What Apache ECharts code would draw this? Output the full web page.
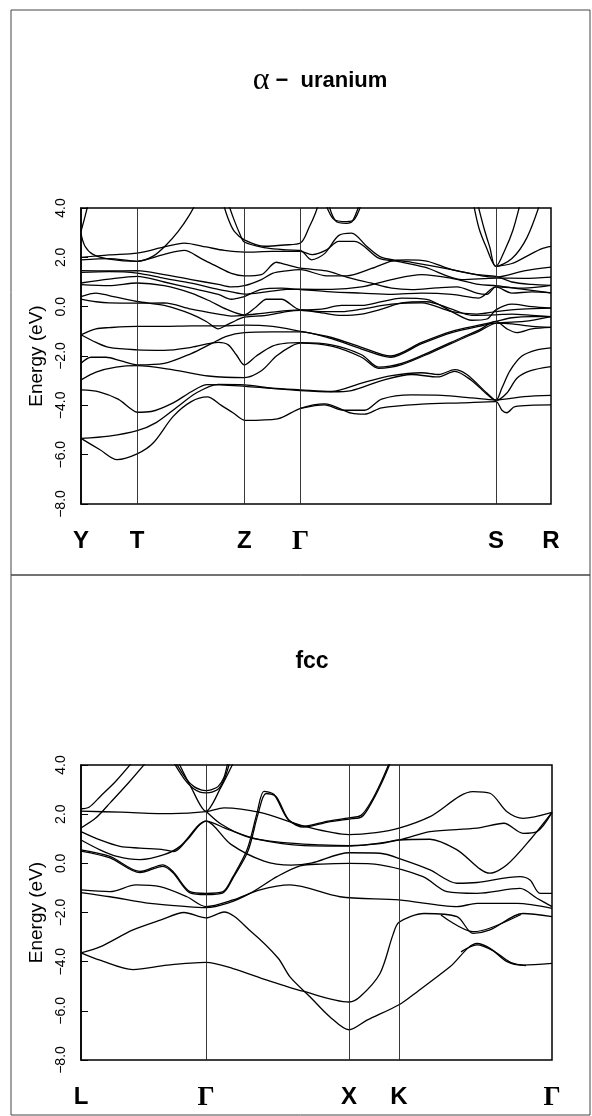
<!DOCTYPE html>
<html>
<head>
<meta charset="utf-8">
<script src="https://cdn.jsdelivr.net/npm/echarts@6/dist/echarts.min.js"></script>
<style>
  html, body { margin: 0; padding: 0; background: #fff; }
  #chart { width: 592px; height: 1116px; }
</style>
</head>
<body>
<div id="chart"></div>
<script>
// energy axis (eV)
const energyMin = -8;
const energyMax = 4;
const energyStep = 2;

// alpha-uranium: k path distance of the symmetry points
const uraniumKPoints = [0, 56, 163, 219, 414, 469];
const uraniumKLabels = ['Y', 'T', 'Z', 'Γ', 'S', 'R'];

// alpha-uranium bands, [k, E]
const uraniumBands = [
  [[0,3.05],[3,3.5],[8,4.3]],
  [[0,2.95],[4,2.45],[12,2.12],[28,1.93],[56,1.84],[72,2.05],[85,2.5],[97,3.05],[108,3.7],[116,4.3]],
  [[141,4.3],[147,3.55],[153,3.05],[163,2.71],[183,2.45],[203,2.5],[219,2.58],[228,3.25],[234,3.8],[238,4.3]],
  [[146,4.3],[152,3.6],[158,3.0],[163,2.62],[185,2.38],[205,2.3],[219,2.28],[230,1.9],[243,2.15],[257,2.88],[270,2.98],[285,2.45],[300,2.0],[330,1.8],[370,1.5],[400,1.25],[414,1.2],[442,1.45],[469,1.6]],
  [[243,4.3],[252,3.55],[265,3.45],[273,3.55],[281,4.3]],
  [[246,4.3],[254,3.48],[265,3.38],[271,3.48],[279,4.3]],
  [[0,2.0],[28,2.1],[56,2.17],[83,2.42],[103,2.58],[125,2.42],[143,2.28],[163,2.21],[191,2.24],[219,2.24],[231,2.11],[245,2.3],[257,2.65],[273,2.65],[297,1.97],[317,1.83],[343,1.6],[380,1.1],[414,1.16],[442,1.15],[469,1.2]],
  [[0,1.9],[28,1.95],[56,1.84],[83,2.12],[103,2.28],[120,1.95],[137,1.6],[150,1.35],[163,1.25],[180,1.3],[195,1.8],[205,1.7],[219,1.56],[245,1.45],[265,1.2],[290,0.95],[310,0.75],[330,0.69],[355,0.76],[375,0.8],[395,0.55],[405,0.5],[414,0.8],[430,0.55],[450,0.6],[469,0.56]],
  [[0,1.46],[28,1.45],[56,1.46],[83,1.3],[110,1.1],[137,0.9],[150,0.8],[163,0.85],[180,1.1],[191,1.35],[205,1.45],[219,1.5],[245,1.25],[265,1.25],[290,1.55],[310,1.85],[325,1.9],[345,1.85],[370,1.5],[395,1.3],[414,1.23],[430,1.0],[450,0.9],[469,0.86]],
  [[0,1.39],[28,1.42],[56,1.36],[83,1.15],[110,0.95],[137,0.7],[150,0.6],[163,0.51],[185,0.6],[205,0.7],[219,0.71],[250,0.7],[280,0.8],[310,1.1],[340,1.3],[370,1.15],[397,0.9],[414,0.85],[442,0.7],[469,0.56]],
  [[0,0.96],[28,1.12],[56,1.23],[83,1.0],[110,0.75],[137,0.5],[150,0.3],[157,0.35],[163,0.41],[180,0.7],[200,0.75],[219,0.69],[250,0.6],[280,0.55],[310,0.5],[340,0.55],[370,0.5],[397,0.35],[414,0.8],[442,0.75],[469,0.86]],
  [[0,0.89],[28,0.85],[56,0.96],[83,0.85],[110,0.55],[130,0.2],[145,-0.1],[163,-0.33],[175,0.0],[185,0.3],[200,0.3],[219,-0.13],[240,-0.1],[260,0.05],[280,0.05],[300,0.2],[320,0.35],[345,0.3],[370,-0.2],[390,-0.55],[405,-0.5],[414,-0.13],[430,0.1],[450,0.0],[469,-0.06]],
  [[0,0.41],[15,0.55],[28,0.45],[56,0.21],[83,0.05],[110,-0.3],[125,-0.6],[137,-0.9],[145,-0.75],[155,-0.55],[163,-0.42],[185,-0.35],[205,-0.2],[219,-0.15],[240,-0.25],[260,-0.35],[280,-0.3],[300,-0.1],[320,0.15],[345,0.2],[370,-0.1],[390,-0.35],[414,-0.33],[430,-0.3],[450,-0.35],[469,-0.4]],
  [[0,0.31],[15,0.2],[28,0.15],[56,0.14],[83,0.15],[110,-0.1],[137,-0.3],[150,-0.38],[163,-0.35],[185,-0.25],[219,-0.13],[240,-0.2],[260,-0.2],[280,-0.1],[310,0.1],[340,0.15],[370,-0.2],[395,-0.3],[414,-0.2],[440,-0.1],[469,-0.06]],
  [[0,-1.14],[15,-0.9],[28,-0.85],[56,-0.8],[83,-0.8],[110,-0.78],[137,-0.78],[163,-0.75],[191,-0.8],[219,-1.0],[250,-1.25],[280,-1.65],[309,-2.0],[340,-1.45],[370,-1.0],[397,-0.75],[414,-0.6],[430,-0.45],[450,-0.4],[469,-0.4]],
  [[0,-2.29],[10,-2.05],[25,-2.05],[40,-2.2],[56,-2.36],[83,-2.3],[110,-1.9],[130,-1.5],[145,-1.2],[163,-1.05],[191,-1.02],[219,-1.02],[250,-1.3],[280,-1.72],[309,-2.05],[340,-1.5],[370,-1.05],[397,-0.8],[414,-0.67],[430,-0.7],[450,-0.8],[469,-0.84]],
  [[0,-1.14],[15,-1.45],[28,-1.65],[56,-1.75],[83,-1.77],[110,-1.65],[137,-1.45],[147,-1.55],[155,-1.95],[163,-2.36],[175,-2.0],[191,-1.6],[205,-1.48],[219,-1.46],[250,-1.55],[280,-1.95],[297,-2.45],[320,-2.3],[350,-1.8],[380,-1.25],[397,-0.95],[414,-0.6],[425,-0.9],[435,-1.05],[450,-0.9],[469,-0.84]],
  [[0,-2.97],[15,-2.65],[35,-2.45],[56,-2.39],[92,-2.56],[127,-2.81],[163,-2.88],[180,-2.6],[195,-2.0],[210,-1.6],[219,-1.48],[250,-1.6],[280,-2.05],[297,-2.5],[320,-2.35],[350,-1.85],[380,-1.3],[397,-1.0],[414,-0.67],[442,-0.6],[469,-0.4]],
  [[0,-3.37],[18,-3.45],[37,-3.75],[50,-4.15],[56,-4.28],[70,-4.25],[92,-3.9],[110,-3.45],[126,-3.16],[164,-3.23],[186,-3.3],[219,-3.4],[250,-3.45],[270,-3.4],[300,-3.0],[330,-2.75],[356,-2.85],[373,-2.62],[390,-3.0],[405,-3.55],[414,-3.8],[425,-3.5],[435,-2.9],[448,-2.6],[469,-2.43]],
  [[0,-5.34],[28,-5.25],[56,-5.03],[75,-4.7],[95,-4.1],[115,-3.5],[137,-3.15],[163,-3.17],[191,-3.3],[219,-3.37],[250,-3.44],[280,-3.1],[310,-2.8],[340,-2.68],[357,-2.75],[373,-2.55],[385,-2.75],[405,-3.5],[414,-3.8],[420,-3.3],[428,-2.6],[440,-2.0],[455,-1.75],[469,-1.67]],
  [[0,-5.34],[19,-5.8],[36,-6.2],[56,-5.97],[72,-5.53],[92,-4.45],[110,-3.85],[126,-3.66],[140,-4.0],[152,-4.31],[164,-4.61],[196,-4.55],[219,-4.12],[243,-3.94],[270,-4.32],[283,-4.36],[300,-4.1],[340,-3.95],[380,-3.9],[414,-3.85],[420,-4.2],[425,-4.3],[433,-4.05],[469,-3.98]],
  [[219,-4.12],[243,-3.98],[262,-4.2],[283,-4.2],[300,-3.75],[330,-3.58],[360,-3.6],[390,-3.7],[414,-3.78],[442,-3.65],[469,-3.6]],
  [[391,4.3],[397,3.2],[404,2.45],[414,1.63],[423,2.3],[431,3.1],[439,4.3]],
  [[395,4.3],[402,3.2],[408,2.4],[414,1.63],[430,1.95],[445,2.8],[459,4.3]],
  [[414,1.63],[430,1.75],[445,2.05],[460,2.35],[469,2.44]]
];

// fcc: k path distance of the symmetry points
const fccKPoints = [0, 125, 268, 318, 471];
const fccKLabels = ['L', 'Γ', 'X', 'K', 'Γ'];

// fcc bands, [k, E]
const fccBands = [
  [[0,2.22],[8,2.28],[20,2.75],[35,3.35],[52,4.15]],
  [[0,1.44],[15,1.85],[30,2.5],[48,3.3],[66,4.15]],
  [[92,4.15],[103,3.45],[112,3.05],[119,2.9],[125,2.87],[131,2.9],[138,3.05],[144,3.5],[149,4.15]],
  [[94,4.15],[105,3.45],[113,3.12],[120,2.99],[125,2.96],[130,2.99],[137,3.12],[143,3.5],[147,4.15]],
  [[97,4.15],[110,3.1],[125,2.12],[140,3.1],[153,4.15]],
  [[0,2.12],[40,2.08],[90,2.02],[125,2.1],[143,2.26],[180,2.06],[223,1.51],[268,1.17],[295,1.25],[318,1.43],[349,1.9],[392,2.92],[409,2.85],[426,2.1],[442,1.83],[471,2.07]],
  [[0,1.29],[19,0.95],[39,0.69],[59,0.62],[83,0.55],[93,0.48],[106,0.95],[125,1.72],[147,1.38],[177,0.97],[223,0.72],[268,0.7],[318,0.95],[349,1.29],[396,1.43],[423,1.63],[442,1.22],[456,1.29],[471,2.07]],
  [[0,0.95],[19,0.55],[36,0.28],[59,0.15],[83,0.35],[99,0.69],[125,1.72],[150,0.77],[183,0.09],[210,-0.07],[230,0.01],[268,0.43],[299,0.41],[322,0.14],[349,-0.27],[376,-0.81],[396,-0.78],[439,-0.54],[449,-0.68],[459,-1.22],[471,-1.22]],
  [[0,0.55],[29,0.28],[59,-0.33],[82,-0.06],[92,-0.33],[109,-1.15],[125,-1.22],[142,-1.15],[152,-0.54],[166,0.55],[176,2.04],[183,2.93],[193,2.8],[207,1.79],[223,1.51],[247,1.72],[268,1.85],[280,1.95],[290,2.5],[300,3.3],[309,4.15]],
  [[0,0.5],[29,0.22],[59,-0.38],[82,-0.12],[92,-0.38],[109,-1.2],[125,-1.27],[142,-1.2],[152,-0.6],[167,0.5],[177,2.0],[185,2.84],[195,2.72],[208,1.75],[223,1.47],[247,1.68],[268,1.8],[281,1.9],[291,2.5],[301,3.3],[310,4.15]],
  [[0,-1.08],[29,-1.15],[55,-0.88],[79,-0.95],[106,-1.36],[125,-1.76],[152,-1.49],[179,-1.08],[209,-0.88],[259,-1.36],[318,-1.49],[376,-1.76],[396,-1.63],[436,-1.63],[471,-1.83]],
  [[0,-1.19],[29,-1.36],[69,-1.63],[106,-1.76],[125,-1.8],[146,-1.63],[169,-1.22],[196,-0.54],[219,-0.1],[240,-0.03],[268,0.0],[299,-0.06],[342,-0.54],[366,-1.15],[396,-1.22],[439,-1.02],[456,-1.42],[471,-1.76]],
  [[125,2.12],[140,1.6],[165,1.1],[200,0.85],[240,0.75],[268,0.72],[299,0.8],[318,0.95],[349,0.98],[376,0.55],[409,-0.4],[426,-0.06],[450,1.0],[471,2.07]],
  [[0,-3.64],[19,-3.94],[52,-4.32],[86,-4.14],[125,-4.03],[152,-4.28],[186,-4.75],[222,-5.2],[268,-5.64],[279,-5.43],[299,-4.48],[312,-2.9],[318,-2.4],[343,-2.04],[376,-2.17],[392,-2.85],[409,-2.71],[442,-2.04],[471,-2.17]],
  [[360,-2.1],[392,-2.78],[410,-2.62],[440,-2.08]],
  [[0,-3.64],[19,-3.4],[52,-2.71],[80,-2.3],[103,-2.0],[125,-2.22],[143,-1.98],[170,-2.77],[197,-3.85],[209,-4.62],[229,-5.43],[249,-6.25],[268,-6.77],[286,-6.38],[319,-5.73],[336,-5.23],[369,-4.21],[396,-3.26],[409,-3.46],[426,-4.0],[442,-4.14],[471,-4.07]],
  [[380,-3.6],[396,-3.32],[412,-3.55],[430,-4.04],[445,-4.16]]
];

const FONT = '"Liberation Sans", Arial, Helvetica, sans-serif';
const SERIF = '"Liberation Serif", "Times New Roman", serif';

function kLabelFormatter(points, labels) {
  return function (v) {
    const i = points.indexOf(v);
    if (i < 0) return '';
    return labels[i] === 'Γ' ? '{g|Γ}' : '{b|' + labels[i] + '}';
  };
}

function makeXAxis(gridIndex, points, labels) {
  return {
    type: 'value',
    gridIndex: gridIndex,
    min: points[0],
    max: points[points.length - 1],
    axisLine: { show: false },
    axisTick: { show: false },
    splitLine: { show: false },
    axisLabel: {
      customValues: points,
      formatter: kLabelFormatter(points, labels),
      margin: 25,
      rich: {
        b: { fontFamily: FONT, fontWeight: 'bold', fontSize: 24, color: '#000' },
        g: { fontFamily: SERIF, fontWeight: 'bold', fontSize: 27, color: '#000' }
      }
    }
  };
}

function makeYAxis(gridIndex) {
  return {
    type: 'value',
    gridIndex: gridIndex,
    min: energyMin,
    max: energyMax,
    interval: energyStep,
    name: 'Energy (eV)',
    nameLocation: 'middle',
    nameRotate: 90,
    nameGap: 34,
    nameTextStyle: { fontFamily: FONT, fontSize: 19, color: '#000' },
    axisLine: { show: true, lineStyle: { color: '#000', width: 1.5 } },
    axisTick: { show: true, inside: true, length: 7, lineStyle: { color: '#000', width: 1 } },
    splitLine: { show: false },
    axisLabel: {
      rotate: 90,
      margin: 13,
      fontFamily: FONT,
      fontSize: 14,
      color: '#000',
      formatter: v => v.toFixed(1).replace('-', '\u2212')
    }
  };
}

function makeBandSeries(bands, gridIndex, points) {
  return bands.map((band, i) => {
    const s = {
      type: 'line',
      xAxisIndex: gridIndex,
      yAxisIndex: gridIndex,
      data: band,
      showSymbol: false,
      smooth: 0.3,
      silent: true,
      clip: true,
      lineStyle: { color: '#000', width: 1.3 }
    };
    if (i === 0) {
      s.markLine = {
        silent: true,
        symbol: ['none', 'none'],
        label: { show: false },
        lineStyle: { color: '#222', width: 0.9, type: 'solid' },
        data: points.slice(1, -1).map(k => ({ xAxis: k }))
      };
    }
    return s;
  });
}

const chart = echarts.init(document.getElementById('chart'), null, { renderer: 'canvas' });

chart.setOption({
  animation: false,
  backgroundColor: '#fff',
  grid: [
    { left: 81, top: 208, width: 470, height: 296, show: true, borderColor: '#000', borderWidth: 1.5 },
    { left: 81, top: 765, width: 471, height: 295, show: true, borderColor: '#000', borderWidth: 1.5 }
  ],
  xAxis: [
    makeXAxis(0, uraniumKPoints, uraniumKLabels),
    makeXAxis(1, fccKPoints, fccKLabels)
  ],
  yAxis: [makeYAxis(0), makeYAxis(1)],
  graphic: [
    { type: 'rect', shape: { x: 11, y: 10, width: 579, height: 565 }, style: { fill: 'none', stroke: '#444', lineWidth: 1 } },
    { type: 'rect', shape: { x: 11, y: 575, width: 579, height: 540 }, style: { fill: 'none', stroke: '#444', lineWidth: 1 } },
    {
      type: 'text', x: 320, y: 81,
      style: {
        text: '{a|α}{b| \u2212  uranium}',
        align: 'center', verticalAlign: 'middle',
        rich: {
          a: { fontFamily: SERIF, fontSize: 32, fill: '#000' },
          b: { fontFamily: FONT, fontWeight: 'bold', fontSize: 22, fill: '#000' }
        }
      }
    },
    {
      type: 'text', x: 312, y: 662,
      style: { text: 'fcc', align: 'center', verticalAlign: 'middle', font: 'bold 23px ' + FONT, fill: '#000' }
    }
  ],
  series: [
    ...makeBandSeries(uraniumBands, 0, uraniumKPoints),
    ...makeBandSeries(fccBands, 1, fccKPoints)
  ]
});
</script>
</body>
</html>
